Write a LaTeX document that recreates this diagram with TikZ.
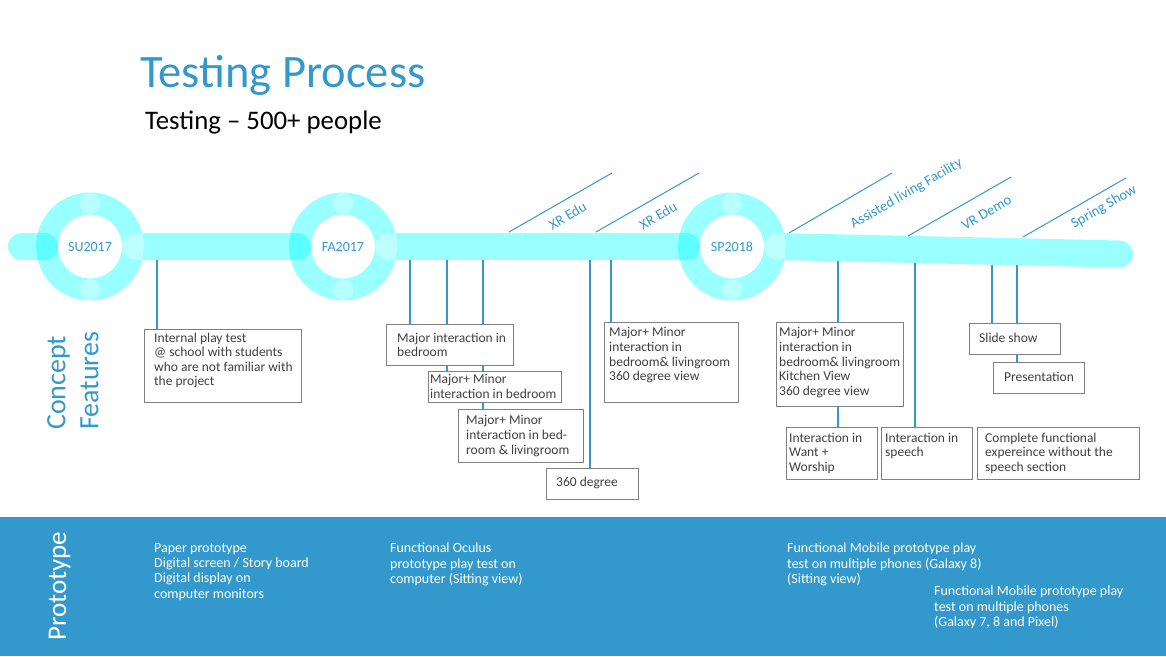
\documentclass[tikz,border=0pt]{standalone}
\usepackage{fontspec}
\setmainfont{Carlito}
\usetikzlibrary{backgrounds}

\definecolor{tpblue}{HTML}{3399CC}
\definecolor{tpcyan}{RGB}{0,255,255}
\definecolor{framegray}{HTML}{808080}
\definecolor{notegray}{HTML}{404040}

\tikzset{
  notebox/.style={draw=framegray, line width=1.3pt, fill=white, anchor=north west, inner sep=0pt},
  notetext/.style={anchor=north west, inner sep=0pt, align=left, text=notegray, font=\fontsize{13.5}{14.6}\selectfont},
  leader/.style={draw=tpblue, line width=1.1pt},
  tagline/.style={draw=tpblue, line width=1pt},
  tag/.style={text=tpblue, font=\fontsize{14.5}{16}\selectfont, rotate=30, inner sep=0pt},
  ringlabel/.style={text=tpblue, font=\fontsize{14}{16}\selectfont, inner sep=0pt},
  bandtext/.style={anchor=north west, inner sep=0pt, align=left, text=white, font=\fontsize{14}{15.3}\selectfont},
  barseg/.style={draw=tpcyan, draw opacity=.4, line width=27pt, line cap=round},
  ring/.style={fill=tpcyan, fill opacity=.4, even odd rule},
  glint/.style={fill=white, fill opacity=.3},
}

\begin{document}
\begin{tikzpicture}[x=1pt, y=-1pt]
\useasboundingbox (0,0) rectangle (1166,656);

% title
\node[anchor=base west, inner sep=0pt, text=tpblue, font=\fontsize{46.5}{50}\selectfont] (title) at (140,87) {Testing Process};
\node[anchor=base west, inner sep=0pt, font=\fontsize{26.8}{30}\selectfont] (subtitle) at (145,129) {Testing -- 500+ people};

% timeline
\draw[barseg] (21.5,246.5) -- (44.5,246.5);
\draw[barseg] (135.5,246.5) -- (297.5,246.5);
\draw[barseg] (388.5,246.5) -- (686.5,246.5);
\draw[barseg] (777.5,246.5) -- (1119.5,254);

\fill[ring] (90,246.5) circle (54pt) circle (32pt);
\fill[glint] (90,203.5) circle (10.5pt) (90,289.5) circle (10.5pt);
\begin{scope}
\clip (90,246.5) circle (54pt);
\draw[barseg, draw=white, draw opacity=.6] (135.5,246.5) -- (175,246.5);
\end{scope}

\fill[ring] (343,246.5) circle (54pt) circle (32pt);
\fill[glint] (343,203.5) circle (10.5pt) (343,289.5) circle (10.5pt);
\begin{scope}
\clip (343,246.5) circle (54pt);
\draw[barseg, draw=white, draw opacity=.6] (388.5,246.5) -- (430,246.5);
\end{scope}

\fill[ring] (732,246.5) circle (54pt) circle (32pt);
\fill[glint] (732,203.5) circle (10.5pt) (732,289.5) circle (10.5pt);
\begin{scope}
\clip (732,246.5) circle (54pt);
\draw[barseg, draw=white, draw opacity=.6] (777.5,246.5) -- (820,247.5);
\end{scope}

\node[ringlabel] (su) at (90,247) {SU2017};
\node[ringlabel] (fa) at (343,247) {FA2017};
\node[ringlabel] (sp) at (732,247) {SP2018};

% events
\coordinate (xr1a) at (509,232);
\coordinate (xr1b) at (612,173);
\draw[tagline] (xr1a) -- (xr1b);
\node[tag] (xr1) at (567.5,215.5) {XR Edu};
\coordinate (xr2a) at (596,232);
\coordinate (xr2b) at (699,173);
\draw[tagline] (xr2a) -- (xr2b);
\node[tag] (xr2) at (658,215.5) {XR Edu};
\coordinate (alfa) at (789,233);
\coordinate (alfb) at (892,173);
\draw[tagline] (alfa) -- (alfb);
\node[tag] (alf) at (906.5,194) {Assisted living Facility};
\coordinate (vra) at (908,236);
\coordinate (vrb) at (1011,177);
\draw[tagline] (vra) -- (vrb);
\node[tag] (vr) at (986.5,212.5) {VR Demo};
\coordinate (ssa) at (1023,237);
\coordinate (ssb) at (1126,178);
\draw[tagline] (ssa) -- (ssb);
\node[tag] (ss) at (1104,207) {Spring Show};

% concept features
\node[rotate=90, anchor=north west, inner sep=0pt, align=left, text=tpblue, font=\fontsize{28}{33}\selectfont] (cf) at (47,430) {Concept\\Features};

\node[notebox, minimum width=157, minimum height=73] (ipt) at (144,329) {};
\node[notetext] (ipt-t) at ([shift={(10,3.5)}]ipt.north west) {Internal play test\\@ school with  students\\who are not familiar with\\the project};

\node[notebox, minimum width=127, minimum height=41] (mib) at (386,324) {};
\node[notetext] (mib-t) at ([shift={(11,8.5)}]mib.north west) {Major interaction in\\bedroom};
\node[notebox, minimum width=133, minimum height=31] (mmb) at (428,371) {};
\node[notetext] (mmb-t) at ([shift={(2,3.5)}]mmb.north west) {Major+ Minor\\interaction in bedroom};
\node[notebox, minimum width=125, minimum height=53] (mmbl) at (458,409) {};
\node[notetext] (mmbl-t) at ([shift={(8,6.5)}]mmbl.north west) {Major+ Minor\\interaction in bed-\\room \& livingroom};
\node[notebox, minimum width=92, minimum height=31] (deg) at (546,468) {};
\node[notetext] (deg-t) at ([shift={(10,8.5)}]deg.north west) {360 degree};
\node[notebox, minimum width=134, minimum height=80] (mmv) at (604,322) {};
\node[notetext] (mmv-t) at ([shift={(5,5.5)}]mmv.north west) {Major+ Minor\\interaction in\\bedroom\& livingroom\\360 degree view};

\node[notebox, minimum width=127, minimum height=84] (mmk) at (776,322) {};
\node[notetext] (mmk-t) at ([shift={(3,5.5)}]mmk.north west) {Major+ Minor\\interaction in\\bedroom\& livingroom\\Kitchen View\\360 degree view};
\node[notebox, minimum width=91, minimum height=52] (iww) at (786,427) {};
\node[notetext] (iww-t) at ([shift={(3,5.5)}]iww.north west) {Interaction in\\Want +\\Worship};
\node[notebox, minimum width=91, minimum height=52] (isp) at (881,427) {};
\node[notetext] (isp-t) at ([shift={(4,5.5)}]isp.north west) {Interaction in\\speech};
\node[notebox, minimum width=91, minimum height=31] (sls) at (969,323) {};
\node[notetext] (sls-t) at ([shift={(10,9.5)}]sls.north west) {Slide show};
\node[notebox, minimum width=91, minimum height=31] (prs) at (993,362) {};
\node[notetext] (prs-t) at ([shift={(11,9.5)}]prs.north west) {Presentation};
\node[notebox, minimum width=162, minimum height=52] (cfe) at (977,427) {};
\node[notetext] (cfe-t) at ([shift={(8,5.5)}]cfe.north west) {Complete functional\\expereince without the\\speech section};

% leaders
\begin{scope}[on background layer]
\coordinate (m1) at (157,260);
\coordinate (m2) at (410,260);
\coordinate (m3) at (447,260);
\coordinate (m4) at (483,260);
\coordinate (m5) at (590,260);
\coordinate (m6) at (611,260);
\coordinate (m7) at (838,261.3);
\coordinate (m8) at (915,263);
\coordinate (m9) at (992,264.7);
\coordinate (m10) at (1017,265.2);
\draw[leader] (m1) -- (m1 |- ipt.north);
\draw[leader] (m2) -- (m2 |- mib.north);
\draw[leader] (m3) -- (m3 |- mmb.north);
\draw[leader] (m4) -- (m4 |- mmbl.north);
\draw[leader] (m5) -- (m5 |- deg.north);
\draw[leader] (m6) -- (m6 |- mmv.north);
\draw[leader] (m7) -- (m7 |- iww.north);
\draw[leader] (m8) -- (m8 |- isp.north);
\draw[leader] (m9) -- (m9 |- sls.north);
\draw[leader] (m10) -- (m10 |- prs.north);
\end{scope}

% prototype band
\fill[tpblue] (0,517) rectangle (1166,656);
\node[rotate=90, anchor=base west, inner sep=0pt, text=white, font=\fontsize{27}{30}\selectfont] (proto) at (66,641) {Prototype};
\node[bandtext] (paper) at (154,543) {Paper prototype\\Digital screen / Story board\\Digital display on\\computer monitors};
\node[bandtext] (oculus) at (390,543) {Functional Oculus\\prototype play test on\\computer (Sitting view)};
\node[bandtext] (mobile1) at (787,543) {Functional Mobile prototype play\\test on multiple phones (Galaxy 8)\\(Sitting view)};
\node[bandtext] (mobile2) at (934,586) {Functional Mobile prototype play\\test on multiple phones\\(Galaxy 7, 8 and Pixel)};
\end{tikzpicture}
\end{document}
